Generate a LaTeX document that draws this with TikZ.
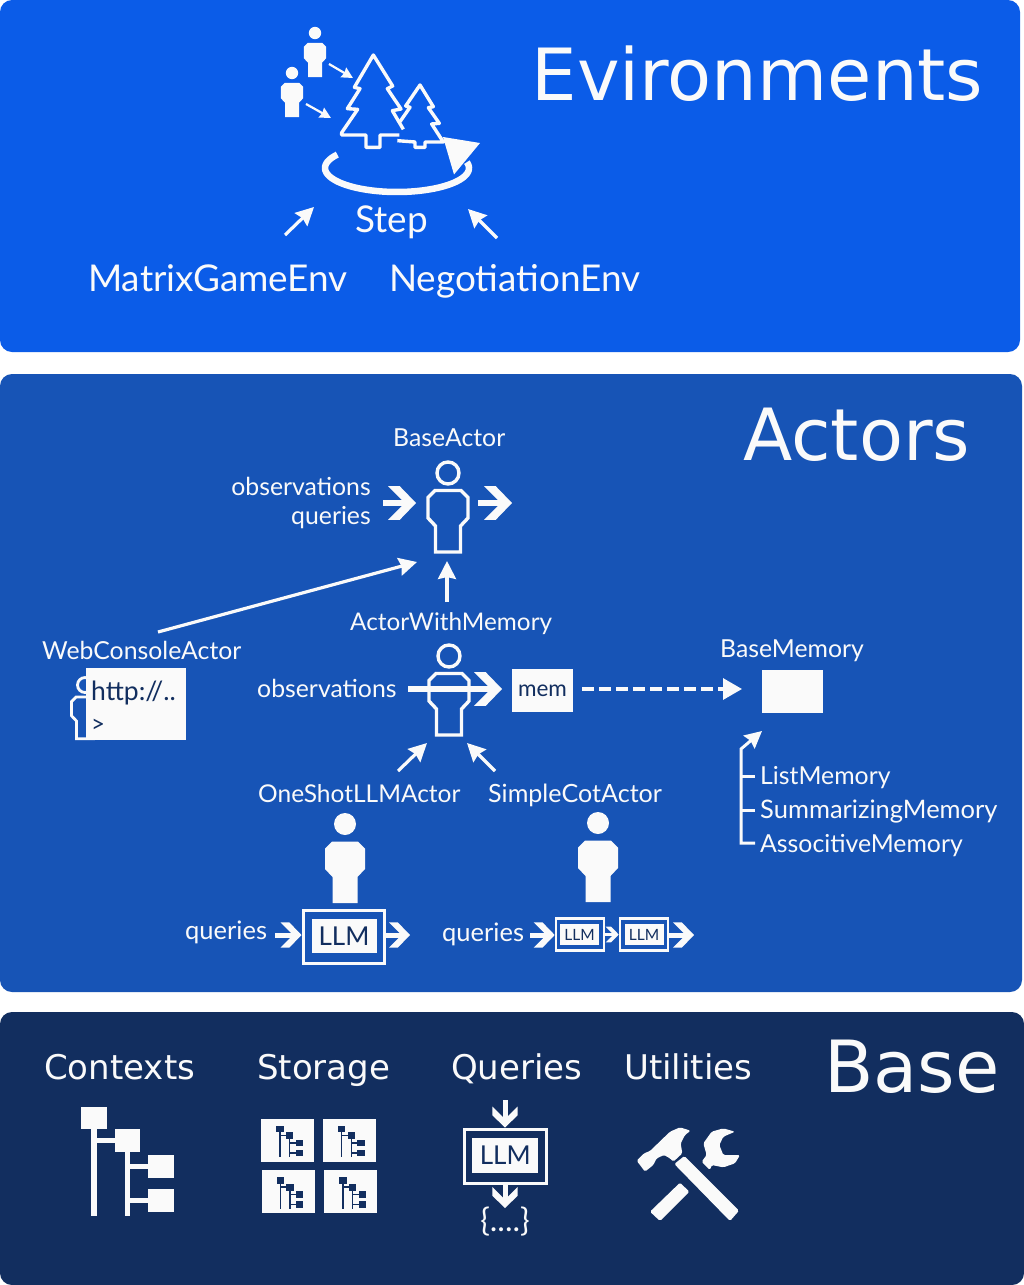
\documentclass[tikz,border=0pt]{standalone}
\usepackage{fontspec}
\setmainfont{Lato}
\newfontfamily\titlefont{DejaVu Sans}
\usetikzlibrary{arrows.meta}
\definecolor{envblue}{HTML}{0B5CE8}
\definecolor{actblue}{HTML}{1754B6}
\definecolor{basenavy}{HTML}{122E5F}
\definecolor{paperw}{HTML}{FAFAFA}
\pgfdeclarearrow{
  name=Chev,
  setup code={\pgfarrowssettipend{0pt}\pgfarrowssetlineend{-.3\pgfarrowlength}\pgfarrowssetbackend{-\pgfarrowlength}\pgfarrowssavethe\pgfarrowlength},
  drawing code={
    \pgfpathmoveto{\pgfqpoint{0pt}{0pt}}
    \pgfpathlineto{\pgfqpoint{-.58\pgfarrowlength}{.6\pgfarrowlength}}
    \pgfpathlineto{\pgfqpoint{-\pgfarrowlength}{.6\pgfarrowlength}}
    \pgfpathlineto{\pgfqpoint{-.4\pgfarrowlength}{0pt}}
    \pgfpathlineto{\pgfqpoint{-\pgfarrowlength}{-.6\pgfarrowlength}}
    \pgfpathlineto{\pgfqpoint{-.58\pgfarrowlength}{-.6\pgfarrowlength}}
    \pgfpathclose\pgfusepathqfill},
  defaults={length=28pt}
}
\tikzset{
  x=1pt,y=-1pt,
  panel/.style={rounded corners=12pt,draw=none},
  lbl/.style={inner sep=0pt,text=paperw,font=\fontsize{24.8}{28}\selectfont},
  biglbl/.style={inner sep=0pt,text=paperw,font=\fontsize{36.9}{40}\selectfont},
  ttl/.style={inner sep=0pt,text=paperw,font=\titlefont\fontsize{72}{80}\selectfont},
  subttl/.style={inner sep=0pt,text=paperw,font=\titlefont\fontsize{34}{38}\selectfont},
  dark/.style={inner sep=0pt,text=basenavy},
  whitebox/.style={fill=paperw,draw=none,inner sep=0pt},
  thinarrow/.style={color=paperw,line width=3.2pt,-{Stealth[length=18pt,width=18pt,inset=2pt]}},
  smallarrow/.style={color=paperw,line width=2.2pt,-{Stealth[length=11pt,width=11pt,inset=1pt]}},
  cheva/.style={color=paperw,line width=6pt,-{Chev[length=28pt]}},
  chevb/.style={color=paperw,line width=5pt,-{Chev[length=21pt]}},
  chevc/.style={color=paperw,line width=3pt,-{Chev[length=13pt]}},
  person/.pic={
    \draw[pic actions] (0,0) circle[radius=11];
    \draw[pic actions] (-13,17.5)--(13,17.5)--(20,24.5)--(20,45)--(12.5,53)--(12.5,79)--(-12.5,79)--(-12.5,53)--(-20,45)--(-20,24.5)--cycle;
  },
  outlined/.style={draw=paperw,line width=3.4pt,fill=none},
  solid person/.style={draw=none,fill=paperw},
  orgtree/.pic={
    \fill[pic actions] (0,0) rectangle (25.4,22.3);
    \fill[pic actions] (33.7,22.6) rectangle (59,45.6);
    \fill[pic actions] (67,48.3) rectangle (92.4,71.6);
    \fill[pic actions] (67,82.3) rectangle (92.4,105);
    \fill[pic actions] (10,22) rectangle (15.4,109.3);
    \fill[pic actions] (15,31) rectangle (34,36.6);
    \fill[pic actions] (43.4,45) rectangle (48.7,109.3);
    \fill[pic actions] (48,57.3) rectangle (67.5,62.3);
    \fill[pic actions] (48,91) rectangle (67.5,96);
  }
}
\begin{document}
\begin{tikzpicture}
\useasboundingbox (0,0) rectangle (1024,1285);
\fill[white] (0,0) rectangle (1024,1285);
% panels
\fill[envblue,panel] (0,0) rectangle (1020,352);
\fill[actblue,panel] (0,374) rectangle (1022,992);
\fill[basenavy,panel] (0,1012) rectangle (1024,1285);

% ===== Environments =====
\node[ttl,anchor=base west] (tEnv) at (531.5,100) {Evironments};
\pic[solid person,scale=.56] at (315,33) {person};
\pic[solid person,scale=.56] at (292,73) {person};
\coordinate (u1) at (329,64);\coordinate (t1) at (353,78);
\coordinate (u2) at (306,104);\coordinate (t2) at (331,118);
\draw[smallarrow] (u1)--(t1);
\draw[smallarrow] (u2)--(t2);
\begin{scope}[shift={(260,10)},scale=1/3]
  \draw[paperw,line width=3.4pt,line join=round]
    (430,358)--(397,302)--(423,297)--(382,236)--(398,228)--(340,135)--(283,232)--(300,236)--(262,296)--(293,298)--(245,368)--(245,375)--(318,375)--(318,412)--(360,412)--(360,375)--(418,375);
  \draw[paperw,line width=3.4pt,line join=round]
    (420,335)--(450,292)--(437,288)--(480,225)--(520,290)--(505,293)--(538,340)--(515,342)--(550,396)--(495,396)--(495,412)--(465,412)--(465,396)--(412,392);
\end{scope}
\draw[paperw,line width=6.5pt] plot[domain=214:-14,samples=70,smooth] ({397+72*cos(\x)},{168+24*sin(\x)});
\fill[paperw] (443,137)--(480,143)--(454,174.5)--cycle;
\node[biglbl,anchor=base west] (step) at (355,232) {Step};
\node[biglbl,anchor=base west] (mge) at (88,291) {MatrixGameEnv};
\node[biglbl,anchor=base west] (neg) at (389,291) {NegotiationEnv};
\coordinate (a1s) at (285,235);\coordinate (a1t) at (314,207);
\coordinate (a2s) at (497,238);\coordinate (a2t) at (468,209);
\draw[thinarrow] (a1s)--(a1t);
\draw[thinarrow] (a2s)--(a2t);

% ===== Actors =====
\node[ttl,anchor=base west] (tAct) at (743,460) {Actors};
\node[lbl,anchor=base west] (ba) at (393,446) {BaseActor};
\node[lbl,anchor=base east] (obs1) at (371,495) {observations};
\node[lbl,anchor=base east] (q1) at (371,524) {queries};
\pic[outlined] at (448,473) {person};
\coordinate (b1s) at (383,503);\coordinate (b1t) at (416,503);
\coordinate (b2s) at (478,503);\coordinate (b2t) at (512,503);
\draw[cheva] (b1s)--(b1t);
\draw[cheva] (b2s)--(b2t);

\coordinate (wc) at (158,632);\coordinate (wt) at (417,562);
\draw[thinarrow] (wc)--(wt);
\coordinate (up1) at (447,602);\coordinate (up2) at (447,561);
\draw[thinarrow] (up1)--(up2);

\node[lbl,anchor=base west,font=\fontsize{24.3}{28}\selectfont] (awm) at (350,630) {ActorWithMemory};
\node[lbl,anchor=base west] (wca) at (42,659) {WebConsoleActor};
\pic[outlined,scale=.68,line width=2.8pt] at (85,685) {person};
\node[whitebox,minimum width=100pt,minimum height=72pt] (console) at (136,704) {};
\node[dark,anchor=base west,font=\fontsize{26.5}{28}\selectfont] (http) at (91,700) {http://..};
\node[dark,anchor=base west,font=\fontsize{24}{26}\selectfont] (prompt) at (91,732) {>};

\pic[outlined] at (449,656) {person};
\node[lbl,anchor=base west] (obs2) at (257,697) {observations};
\coordinate (o2s) at (408,689);\coordinate (o2t) at (502,689);
\draw[cheva] (o2s)--(o2t);
\node[whitebox,minimum width=61pt,minimum height=43pt,text=basenavy,font=\fontsize{22.5}{24}\selectfont] (mem) at (542.5,690.5) {mem};
\node[whitebox,minimum width=61pt,minimum height=43pt] (bmem) at (792.5,691.5) {};
\node[lbl,anchor=base west] (bm) at (720,657) {BaseMemory};
\coordinate (mm) at (742,689);
\draw[paperw,line width=3.2pt,dash pattern=on 12pt off 5pt,-{Stealth[length=19pt,width=21pt,inset=0pt]}] ([xshift=9pt]mem.east|-mm)--(mm);

\coordinate (os) at (398,771);\coordinate (ot) at (427,743);
\coordinate (ss) at (495,771);\coordinate (st) at (467,743);
\draw[thinarrow] (os)--(ot);
\draw[thinarrow] (ss)--(st);
\node[lbl,anchor=base west,font=\fontsize{24.5}{28}\selectfont] (osl) at (258,802) {OneShotLLMActor};
\node[lbl,anchor=base west,font=\fontsize{25.1}{28}\selectfont] (scl) at (488,802) {SimpleCotActor};

% inheritance bracket of memories
\node[lbl,anchor=base west] (lm) at (760,784) {ListMemory};
\node[lbl,anchor=base west,font=\fontsize{25.5}{28}\selectfont] (sm) at (760,818) {SummarizingMemory};
\node[lbl,anchor=base west] (am) at (760,852) {AssocitiveMemory};
\coordinate (brT) at (762,731);
\coordinate (brK) at (741,749);
\coordinate (b1) at (755,776);\coordinate (b2) at (755,810);\coordinate (b3) at (755,843);
\draw[color=paperw,line width=3pt,-{Stealth[length=17pt,width=17pt,inset=2pt]}] (b3)-|(brK)--(brT);
\draw[paperw,line width=3pt] (741,776)--(b1);
\draw[paperw,line width=3pt] (741,810)--(b2);

% LLM actors
\pic[solid person] at (345,824) {person};
\pic[solid person] at (598,823) {person};
\node[draw=paperw,line width=3pt,minimum width=81pt,minimum height=53pt,inner sep=0pt] (llmA) at (343.5,936.5) {};
\node[whitebox,minimum width=65pt,minimum height=34pt,text=basenavy,font=\fontsize{26}{28}\selectfont] (llmAi) at (344,936) {LLM};
\node[lbl,anchor=base west,font=\fontsize{25.5}{28}\selectfont] (qa) at (185,939) {queries};
\coordinate (qas) at (275,935);
\draw[chevb] (qas)--(llmA.west|-qas);
\coordinate (qat) at (410,935);
\draw[chevb] (llmA.east|-qat)--(qat);

\node[draw=paperw,line width=2.6pt,minimum width=48pt,minimum height=32pt,inner sep=0pt] (llmB) at (580,934.5) {};
\node[whitebox,minimum width=39pt,minimum height=21pt,text=basenavy,font=\fontsize{15.5}{17}\selectfont] (llmBi) at (579.5,934.5) {LLM};
\node[draw=paperw,line width=2.6pt,minimum width=48pt,minimum height=32pt,inner sep=0pt] (llmC) at (644,934.5) {};
\node[whitebox,minimum width=39pt,minimum height=21pt,text=basenavy,font=\fontsize{15.5}{17}\selectfont] (llmCi) at (644,934.5) {LLM};
\node[lbl,anchor=base west,font=\fontsize{25.5}{28}\selectfont] (qb) at (442,941) {queries};
\coordinate (qbs) at (530,935);
\draw[chevb] (qbs)--(llmB.west|-qbs);
\draw[chevc] (llmB.east)--(llmC.west);
\coordinate (qbt) at (694,935);
\draw[chevb] (llmC.east|-qbt)--(qbt);

% ===== Base =====
\node[ttl,anchor=base west] (tBase) at (824,1092) {Base};
\node[subttl,anchor=base west] (ctx) at (44,1079) {Contexts};
\node[subttl,anchor=base west] (sto) at (257,1079) {Storage};
\node[subttl,anchor=base west] (qry) at (451,1079) {Queries};
\node[subttl,anchor=base west] (utl) at (624,1079) {Utilities};

\pic[fill=paperw] at (81.3,1106.7) {orgtree};
\node[whitebox,minimum width=52.7pt,minimum height=43pt] (s1) at (287.6,1140.5) {};
\node[whitebox,minimum width=52.7pt,minimum height=43pt] (s2) at (349.3,1140.5) {};
\node[whitebox,minimum width=52.7pt,minimum height=43pt] (s3) at (288.3,1191.8) {};
\node[whitebox,minimum width=52.7pt,minimum height=43pt] (s4) at (350.6,1191.8) {};
\pic[fill=basenavy,scale=.29] at (276.3,1125.7) {orgtree};
\pic[fill=basenavy,scale=.29] at (338,1125.7) {orgtree};
\pic[fill=basenavy,scale=.29] at (276.7,1177.3) {orgtree};
\pic[fill=basenavy,scale=.29] at (339.3,1177.3) {orgtree};

\node[draw=paperw,line width=3pt,minimum width=82pt,minimum height=54pt,inner sep=0pt] (llmD) at (505,1156) {};
\node[whitebox,minimum width=66pt,minimum height=34.4pt,text=basenavy,font=\fontsize{26}{28}\selectfont] (llmDi) at (505.3,1155.5) {LLM};
\coordinate (qin) at (505,1100);
\draw[chevb] (qin)--(llmD.north);
\coordinate (qout) at (505,1208);
\draw[chevb] (llmD.south)--(qout);
\node[inner sep=0pt,text=paperw,font=\fontsize{32}{34}\selectfont] (json) at (505,1222) {\{....\}};

\begin{scope}[shift={(440,1090)},scale=1/3]
  \fill[paperw,rounded corners=1.5pt] (590,212)--(612,190)--(630,183)--(690,125)--(720,112)--(752,122)--(735,135)--(722,160)--(727,190)--(700,215)--(690,205)--(672,195)--(650,205)--(640,225)--(615,245)--cycle;
  \fill[paperw,rounded corners=1.5pt] (703,222)--(733,198)--(897,362)--(870,393)--cycle;
  \fill[paperw,rounded corners=1.5pt] (630,365)--(720,278)--(748,305)--(660,393)--cycle;
  \fill[paperw,rounded corners=1.5pt] (785,215)--(800,195)--(790,160)--(815,125)--(850,115)--(885,125)--(850,140)--(838,165)--(850,195)--(900,195)--(885,220)--(850,232)--(815,225)--(810,240)--cycle;
\end{scope}
\end{tikzpicture}
\end{document}
